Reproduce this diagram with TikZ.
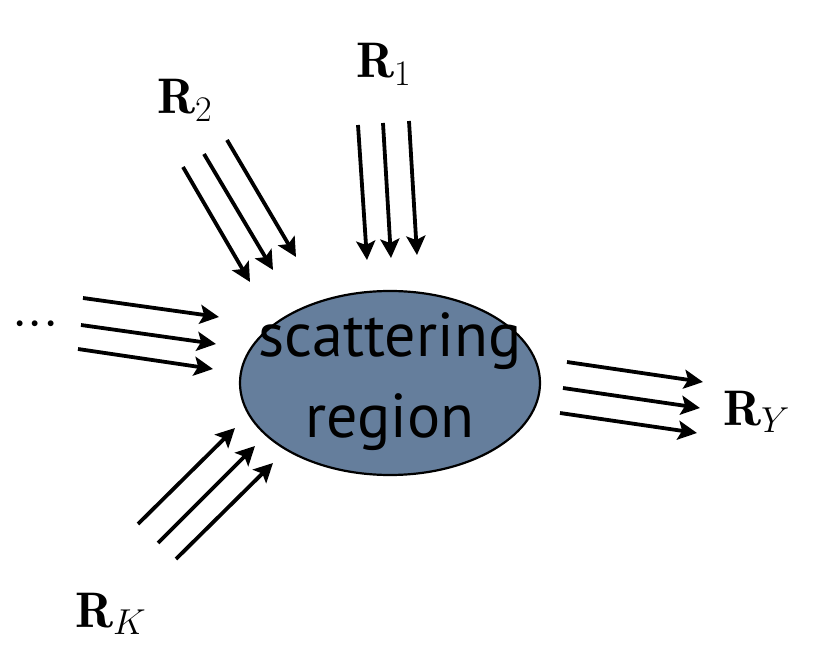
\RequirePackage{fix-cm}
\documentclass[tikz,border=0pt]{standalone}
\usepackage{fontspec}
\newfontfamily\regionfont{PT Sans}
\usetikzlibrary{arrows.meta,shapes.geometric}
\DeclareMathSizes{50}{50}{36}{26}
\DeclareMathSizes{55}{55}{38}{28}
\definecolor{regionblue}{RGB}{101,126,156}
\tikzset{
  ray/.style={line width=3.8pt,-{Stealth[length=19pt,width=19pt,inset=4pt]}},
  lbl/.style={inner sep=0pt,anchor=base west,font=\fontsize{50}{60}\selectfont},
}
\begin{document}
\begin{tikzpicture}[x=1pt,y=-1pt]
\useasboundingbox (0,0) rectangle (831,671);
\node[ellipse,draw=black,line width=2.2pt,fill=regionblue,minimum width=300pt,minimum height=184pt,inner sep=0pt] (region) at (390,383) {};
\node[inner sep=0pt,anchor=base,font=\regionfont\fontsize{62}{75}\selectfont] (t1) at (390,357) {scattering};
\node[inner sep=0pt,anchor=base,font=\regionfont\fontsize{62}{75}\selectfont] (t2) at (390,438) {region};

\node[lbl] (r1) at (356,78) {$\mathbf{R}_1$};
\node[lbl] (r2) at (157,114) {$\mathbf{R}_2$};
\node[lbl] (rk) at (75,627) {$\mathbf{R}_K$};
\node[lbl] (ry) at (723,425) {$\mathbf{R}_Y$};
\node[inner sep=0pt,anchor=center,font=\fontsize{55}{60}\selectfont] (dots) at (35.5,325) {${\cdot}{\cdot}{\cdot}$};

% R1
\coordinate (a1s) at (358,125); \coordinate (a1e) at (367,260);
\coordinate (a2s) at (383,123); \coordinate (a2e) at (391,258);
\coordinate (a3s) at (409,121); \coordinate (a3e) at (417,255);
% R2
\coordinate (b1s) at (183,167); \coordinate (b1e) at (250,282);
\coordinate (b2s) at (204,154); \coordinate (b2e) at (273,270);
\coordinate (b3s) at (227,140); \coordinate (b3e) at (296,257);
% left
\coordinate (c1s) at (83,298); \coordinate (c1e) at (219,317);
\coordinate (c2s) at (81,325); \coordinate (c2e) at (216,344);
\coordinate (c3s) at (78,349); \coordinate (c3e) at (213,369);
% RK
\coordinate (d1s) at (138,524); \coordinate (d1e) at (235,428);
\coordinate (d2s) at (158,543); \coordinate (d2e) at (255,446);
\coordinate (d3s) at (176,559); \coordinate (d3e) at (273,463);
% RY
\coordinate (e1s) at (567,362); \coordinate (e1e) at (703,382);
\coordinate (e2s) at (563,388); \coordinate (e2e) at (700,408);
\coordinate (e3s) at (560,413); \coordinate (e3e) at (697,433);

\foreach \g in {a,b,c,d,e}{
  \foreach \i in {1,2,3}{
    \draw[ray] (\g\i s) -- (\g\i e);
  }
}
\end{tikzpicture}
\end{document}
